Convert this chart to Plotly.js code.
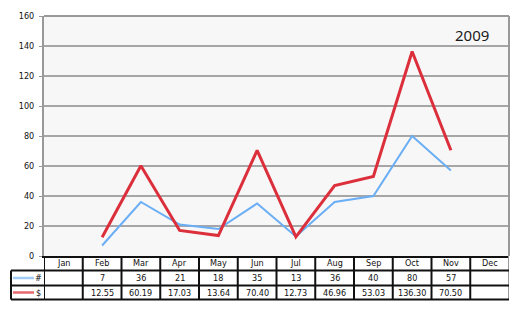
<!DOCTYPE html>
<html>
<head>
<meta charset="utf-8">
<script src="https://cdn.plot.ly/plotly-3.0.1.min.js"></script>
<style>html,body{margin:0;padding:0;background:#fff;}#chart{width:520px;height:310px;}</style>
</head>
<body>
<div id="chart"></div>
<script>
const months = ["Jan","Feb","Mar","Apr","May","Jun","Jul","Aug","Sep","Oct","Nov","Dec"];
const countVals = [null,7,36,21,18,35,13,36,40,80,57,null];
const dollarVals = [null,12.55,60.19,17.03,13.64,70.40,12.73,46.96,53.03,136.30,70.50,null];
const seriesNames = ["#","$"];
const chartTitle = "2009";
const yTicks = [0,20,40,60,80,100,120,140,160];

const blue = "#6aaef5", red = "#dc2f3c";
const swatchColors = ["#a3cdf7", "#e56a6e"];
const font = {family: "DejaVu Sans Condensed, DejaVu Sans", size: 9, color: "#111"};

// table geometry (paper coordinates, plot height 240px)
const pxY = p => -p / 240;   // pixels below plot bottom -> paper y
const pxX = p => p / 465;    // pixels from plot left -> paper x
const rowLines = [pxY(14.5), pxY(29.5), pxY(43.5)];
const rowCenters = [pxY(7.3), pxY(22), pxY(36.5)];
const tableLeft = pxX(-33);

const traces = [
  {x: months, y: countVals, type: "scatter", mode: "lines", name: seriesNames[0],
   line: {color: blue, width: 2}, connectgaps: false},
  {x: months, y: dollarVals, type: "scatter", mode: "lines", name: seriesNames[1],
   line: {color: red, width: 3}, connectgaps: false}
];

const shapes = [];
const annotations = [];
// vertical column separators
for (let i = 0; i <= months.length; i++) {
  shapes.push({type: "line", xref: "x", yref: "paper", x0: i - 0.5, x1: i - 0.5,
    y0: 0, y1: rowLines[2], line: {color: i === months.length ? "#999" : "#111", width: 2}});
}
// horizontal row lines
rowLines.forEach(y => shapes.push({type: "line", xref: "paper", yref: "paper",
  x0: tableLeft, x1: 1, y0: y, y1: y, line: {color: "#111", width: 2}}));
// left border of legend column
shapes.push({type: "line", xref: "paper", yref: "paper", x0: tableLeft, x1: tableLeft,
  y0: rowLines[0], y1: rowLines[2], line: {color: "#111", width: 2}});
// plot border top/right
shapes.push({type: "line", xref: "paper", yref: "paper", x0: 0, x1: 1, y0: 1, y1: 1,
  line: {color: "#999", width: 2}});
shapes.push({type: "line", xref: "paper", yref: "paper", x0: 1, x1: 1, y0: 0, y1: 1,
  line: {color: "#999", width: 2}});
// legend swatches
swatchColors.forEach((c, k) => {
  shapes.push({type: "line", xref: "paper", yref: "paper", x0: pxX(-31), x1: pxX(-10),
    y0: rowCenters[k + 1], y1: rowCenters[k + 1], line: {color: c, width: 2.5}});
  annotations.push({xref: "paper", yref: "paper", x: pxX(-6), y: rowCenters[k + 1],
    text: seriesNames[k], showarrow: false, font: font, xanchor: "center", yanchor: "middle"});
});
// month labels & values
months.forEach((m, i) => {
  annotations.push({xref: "x", yref: "paper", x: m, y: rowCenters[0], text: m,
    showarrow: false, font: font, yanchor: "middle"});
  if (countVals[i] !== null) annotations.push({xref: "x", yref: "paper", x: m, y: rowCenters[1],
    text: String(countVals[i]), showarrow: false, font: font, yanchor: "middle"});
  if (dollarVals[i] !== null) annotations.push({xref: "x", yref: "paper", x: m, y: rowCenters[2],
    text: dollarVals[i].toFixed(2), showarrow: false, font: font, yanchor: "middle"});
});
// title in plot area
annotations.push({xref: "paper", yref: "paper", x: pxX(447), y: 1 - 19/240, text: chartTitle,
  showarrow: false, xanchor: "right", yanchor: "middle",
  font: {family: "Noto Sans, Open Sans", size: 15, color: "#1a1a1a"}});

const layout = {
  width: 520, height: 310,
  margin: {l: 44, r: 11, t: 16, b: 54},
  paper_bgcolor: "#fff", plot_bgcolor: "#f7f7f7",
  showlegend: false,
  xaxis: {type: "category", range: [-0.5, 11.5], showticklabels: false, showgrid: false,
    zeroline: false, showline: true, linecolor: "#111", linewidth: 2, ticks: "", fixedrange: true},
  yaxis: {range: [0, 160], tickvals: yTicks, showgrid: true, gridcolor: "#a6a6a6", gridwidth: 1.5,
    zeroline: false, showline: true, linecolor: "#999", linewidth: 2, ticks: "outside",
    ticklen: 3, tickcolor: "#999", tickfont: font, ticklabelstandoff: 3},
  shapes: shapes,
  annotations: annotations
};

Plotly.newPlot("chart", traces, layout, {staticPlot: true, displayModeBar: false});
</script>
</body>
</html>
